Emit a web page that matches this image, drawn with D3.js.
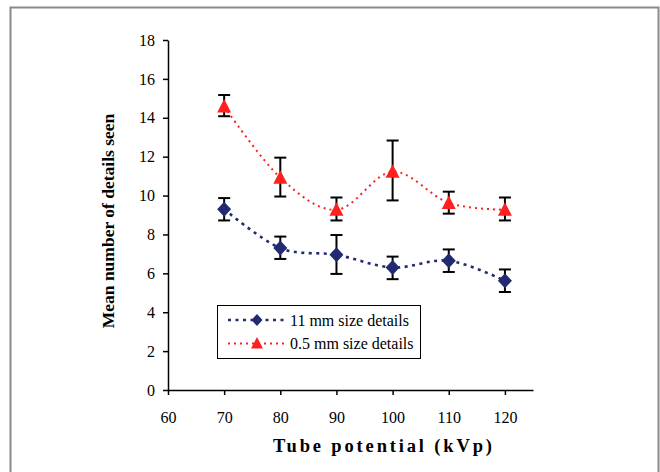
<!DOCTYPE html>
<html>
<head>
<meta charset="utf-8">
<script src="https://cdn.jsdelivr.net/npm/d3@7"></script>
<style>
  body { margin: 0; background: #fff; }
  svg text { font-family: "Times New Roman", "Liberation Serif", "DejaVu Serif", serif !important; fill: #000; }
</style>
</head>
<body>
<div id="chart"></div>
<script>
'use strict'

// tube potential (kVp)
const kvp = [70, 80, 90, 100, 110, 120];

// 11 mm size details: mean, lower and upper error
const mean11 = [9.3, 7.3, 6.95, 6.3, 6.65, 5.62];
const lo11 = [8.72, 6.74, 5.97, 5.7, 6.07, 5.04];
const hi11 = [9.87, 7.89, 7.97, 6.86, 7.23, 6.2];

// 0.5 mm size details
const mean05 = [14.58, 10.92, 9.27, 11.23, 9.62, 9.27];
const lo05 = [14.08, 9.95, 8.72, 9.75, 9.07, 8.72];
const hi05 = [15.17, 11.95, 9.9, 12.83, 10.2, 9.9];

const xTicks = [60, 70, 80, 90, 100, 110, 120];
const yTicks = [0, 2, 4, 6, 8, 10, 12, 14, 16, 18];

const series = [
    { name: '11 mm size details', mean: mean11, lo: lo11, hi: hi11, color: '#222a72', dash: '3,4.5', width: 2.6, shape: 'diamond' },
    { name: '0.5 mm size details', mean: mean05, lo: lo05, hi: hi05, color: '#ff1f1f', dash: '2,4', width: 2, shape: 'triangle' }
];

const W = 660, H = 472;
let svg = d3.select('#chart').append('svg')
    .attr('width', W)
    .attr('height', H);

// outer frame
svg.append('rect')
    .attr('x', 10.5).attr('y', 7.5)
    .attr('width', 648).attr('height', 480)
    .attr('fill', 'none')
    .attr('stroke', '#8a8a8a')
    .attr('stroke-width', 2);

let x = d3.scaleLinear().domain([60, 125]).range([168, 533]),
    y = d3.scaleLinear().domain([0, 18]).range([390, 40]);

// axes
let gx = svg.append('g')
    .attr('transform', 'translate(0,' + y(0) + ')')
    .call(d3.axisBottom(x).tickValues(xTicks).tickSize(5).tickPadding(17).tickSizeOuter(0));
gx.select('.domain').attr('stroke', '#000').attr('stroke-width', 1.5);
gx.selectAll('.tick line').attr('stroke', '#000').attr('stroke-width', 1.5);
gx.selectAll('.tick text').style('font-size', '16px');

let gy = svg.append('g')
    .attr('transform', 'translate(' + x(60) + ',0)')
    .call(d3.axisLeft(y).tickValues(yTicks).tickSize(5).tickPadding(8).tickSizeOuter(0));
gy.select('.domain').attr('stroke', '#000').attr('stroke-width', 1.5);
gy.selectAll('.tick line').attr('stroke', '#000').attr('stroke-width', 1.5);
gy.selectAll('.tick text').style('font-size', '16px');

// axis titles
svg.append('text')
    .attr('x', 273).attr('y', 452)
    .attr('textLength', 219)
    .attr('lengthAdjust', 'spacing')
    .style('font-size', '18.5px').attr('font-weight', 'bold')
    .text('Tube potential (kVp)');

svg.append('text')
    .attr('transform', 'translate(114,221) rotate(-90)')
    .attr('text-anchor', 'middle')
    .style('font-size', '17.5px').attr('font-weight', 'bold')
    .text('Mean number of details seen');

let line = d3.line()
    .curve(d3.curveCardinal.tension(0))
    .x(function(d, i) { return x(kvp[i]); })
    .y(function(d) { return y(d); });

const diamond = 'M0,-7.5L7,0L0,7.5L-7,0Z',
    triangle = 'M0,-7.5L7,6L-7,6Z';

series.forEach(function(s) {
    svg.append('path')
        .datum(s.mean)
        .attr('d', line)
        .attr('fill', 'none')
        .attr('stroke', s.color)
        .attr('stroke-width', s.width)
        .attr('stroke-dasharray', s.dash);
});

series.forEach(function(s) {
    let g = svg.append('g');
    kvp.forEach(function(k, i) {
        let cx = x(k);
        g.append('line')
            .attr('x1', cx).attr('x2', cx)
            .attr('y1', y(s.lo[i])).attr('y2', y(s.hi[i]))
            .attr('stroke', '#000').attr('stroke-width', 2);
        [s.lo[i], s.hi[i]].forEach(function(v) {
            g.append('line')
                .attr('x1', cx - 6).attr('x2', cx + 6)
                .attr('y1', y(v)).attr('y2', y(v))
                .attr('stroke', '#000').attr('stroke-width', 2);
        });
        g.append('path')
            .attr('d', s.shape === 'diamond' ? diamond : triangle)
            .attr('transform', 'translate(' + cx + ',' + y(s.mean[i]) + ')')
            .attr('fill', s.color);
    });
});

// legend
let lg = svg.append('g');
lg.append('rect')
    .attr('x', 217.5).attr('y', 305.5)
    .attr('width', 203).attr('height', 53)
    .attr('fill', '#fff')
    .attr('stroke', '#000').attr('stroke-width', 1);

series.forEach(function(s, i) {
    let ly = 320 + i * 23.5;
    lg.append('line')
        .attr('x1', 228).attr('x2', 284)
        .attr('y1', ly).attr('y2', ly)
        .attr('stroke', s.color)
        .attr('stroke-width', s.width)
        .attr('stroke-dasharray', s.dash);
    lg.append('path')
        .attr('d', s.shape === 'diamond' ? 'M0,-6L5.5,0L0,6L-5.5,0Z' : 'M0,-6.5L6,5L-6,5Z')
        .attr('transform', 'translate(257,' + ly + ')')
        .attr('fill', s.color);
    lg.append('text')
        .attr('x', 290).attr('y', ly + 5.5)
        .style('font-size', '16px')
        .text(s.name);
});
</script>
</body>
</html>
